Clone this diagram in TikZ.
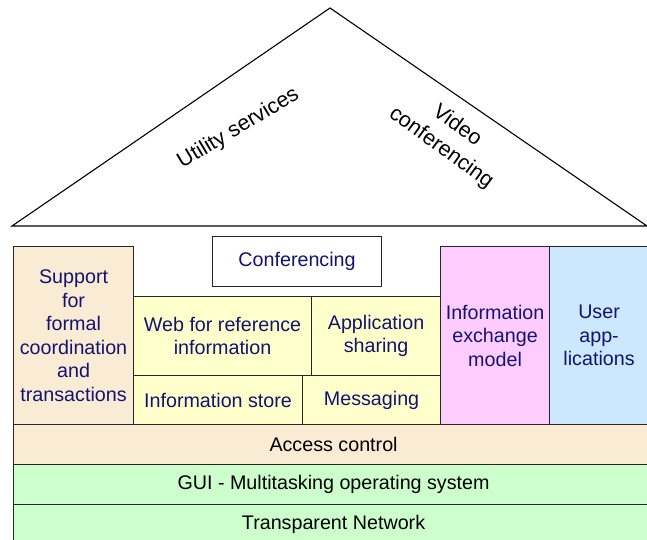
\documentclass[tikz,border=0pt]{standalone}
\usepackage{fontspec}
\setmainfont{Liberation Sans}
\usetikzlibrary{positioning}
\definecolor{lBeige}{HTML}{FAEBD4}
\definecolor{lYellow}{HTML}{FFFFCC}
\definecolor{lPink}{HTML}{FFCCFF}
\definecolor{lBlue}{HTML}{CCE8FF}
\definecolor{lGreen}{HTML}{CCFFCC}
\definecolor{txtNavy}{HTML}{14146E}

\begin{document}
\begin{tikzpicture}[x=1bp, y=-1bp,
      blk/.style={draw=black!85, line width=1.1bp, anchor=north west, inner sep=0pt,
        align=center, text=txtNavy, font=\fontsize{19.7bp}{23.5bp}\selectfont},
      layer/.style={blk, text=black, minimum width=640bp, minimum height=40bp},
      roof/.style={font=\fontsize{21.5bp}{27bp}\selectfont, align=center, inner sep=0pt}]
    \clip (0,0) rectangle (647,540);
    % roof
    \draw[line width=1.1bp] (12,226) -- (330,8) -- (647,226) -- cycle;
    \node[roof, rotate=31] (util) at (238.5,128.5) {Utility services};
    \node[roof, rotate=-36] (video) at (449,137) {Video\\conferencing};
    % upper blocks
    \node[blk, fill=lBeige, minimum width=120bp, minimum height=178bp] (support) at (13,246)
      {Support\\for\\formal\\coordination\\and\\transactions};
    \node[blk, fill=white, minimum width=169bp, minimum height=50bp] (conf) at (212,236) {Conferencing};
    \node[blk, fill=lYellow, minimum width=178bp, minimum height=79bp] (web) at (133,296)
      {Web for reference\\information};
    \node[blk, fill=lYellow, minimum width=129bp, minimum height=79bp] (share) at (311,296)
      {Application\\sharing};
    \node[blk, fill=lYellow, minimum width=169bp, minimum height=49bp] (store) at (133,375) {Information store};
    \node[blk, fill=lYellow, minimum width=138bp, minimum height=49bp] (msg) at (302,375) {Messaging};
    \node[blk, fill=lPink, minimum width=109bp, minimum height=178bp] (iex) at (440,246)
      {Information\\exchange\\model};
    \node[blk, fill=lBlue, minimum width=99bp, minimum height=178bp] (user) at (549,246)
      {User\\app-\\lications};
    % base layers
    \node[layer, fill=lBeige] (access) at (13,424) {Access control};
    \node[layer, fill=lGreen] (gui) at (13,464) {GUI - Multitasking operating system};
    \node[layer, fill=lGreen] (net) at (13,504) {Transparent Network};
  \end{tikzpicture}
\end{document}
